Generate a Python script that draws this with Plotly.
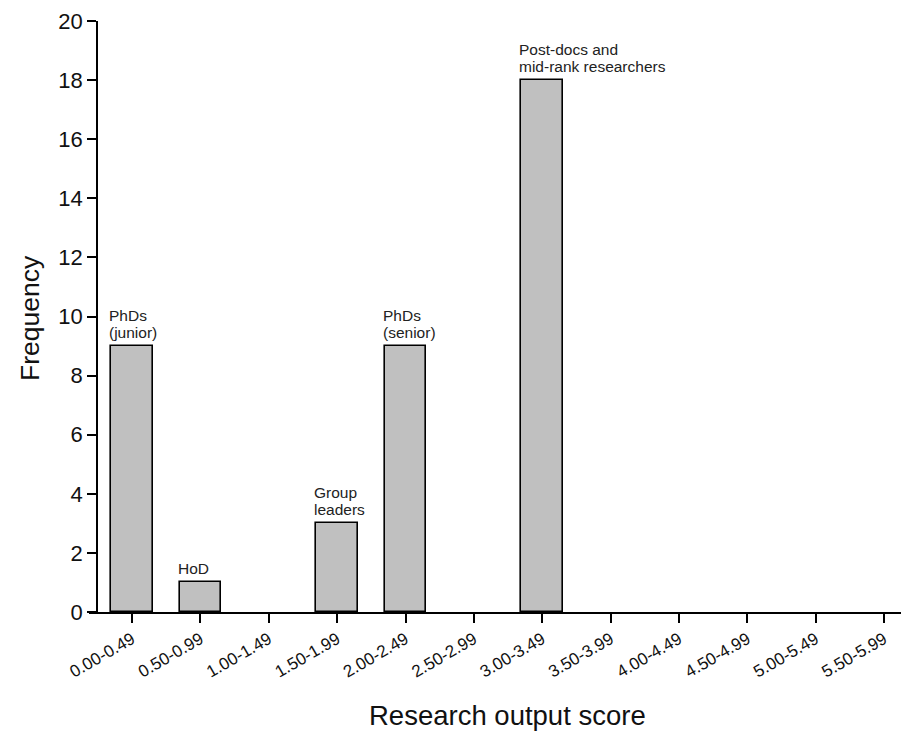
import plotly.graph_objects as go

categories = ["0.00-0.49", "0.50-0.99", "1.00-1.49", "1.50-1.99", "2.00-2.49", "2.50-2.99",
              "3.00-3.49", "3.50-3.99", "4.00-4.49", "4.50-4.99", "5.00-5.49", "5.50-5.99"]
frequency = [9, 1, 0, 3, 9, 0, 18, 0, 0, 0, 0, 0]
labels = {0: ["PhDs", "(junior)"], 1: ["HoD"], 3: ["Group", "leaders"], 4: ["PhDs", "(senior)"],
          6: ["Post-docs and", "mid-rank researchers"]}

FONT = "Liberation Sans, Arial, sans-serif"
BAR_W = 0.61
LINE_H = 17

fig = go.Figure()
fig.add_trace(go.Bar(
    x=list(range(len(categories))), y=frequency, width=BAR_W,
    marker=dict(color="#c0c0c0",
                line=dict(color="black", width=[1.6 if v > 0 else 0 for v in frequency])),
    showlegend=False,
))

for i, lines in labels.items():
    n = len(lines)
    for k, txt in enumerate(lines):
        fig.add_annotation(x=i - BAR_W / 2, y=frequency[i], text=txt, showarrow=False,
                           xanchor="left", yanchor="bottom", align="left",
                           xshift=-4, yshift=3 + (n - 1 - k) * LINE_H,
                           font=dict(family=FONT, size=15.5, color="#222"))

fig.update_layout(
    width=909, height=736,
    paper_bgcolor="white", plot_bgcolor="white",
    margin=dict(l=81, r=9, t=13, b=132),
    font=dict(family=FONT, color="#111"),
    bargap=0,
    xaxis=dict(
        range=[-0.63, 11.35], tickmode="array", tickvals=list(range(len(categories))),
        ticktext=categories, tickangle=-30, tickfont=dict(size=17),
        ticks="outside", ticklen=9, tickwidth=1.5, tickcolor="black",
        showline=True, linecolor="black", linewidth=1.6, showgrid=False, zeroline=False,
        automargin=False,
    ),
    yaxis=dict(
        range=[0, 20], tickvals=list(range(0, 21, 2)), tickfont=dict(size=22),
        ticks="outside", ticklen=9, tickwidth=1.5, tickcolor="black",
        showline=True, linecolor="black", linewidth=1.6, showgrid=False, zeroline=False,
        anchor="free", position=0.0098,
        automargin=False,
    ),
    annotations=list(fig.layout.annotations) + [
        dict(text="Research output score", xref="paper", yref="paper", x=0.5115, y=-0.175,
             xanchor="center", yanchor="middle", showarrow=False,
             font=dict(family=FONT, size=27.5, color="#111")),
        dict(text="Frequency", xref="paper", yref="paper", x=-0.073, y=0.498, textangle=-90,
             xanchor="center", yanchor="middle", showarrow=False,
             font=dict(family=FONT, size=26.5, color="#111")),
    ],
)

fig.write_html("out.html")
